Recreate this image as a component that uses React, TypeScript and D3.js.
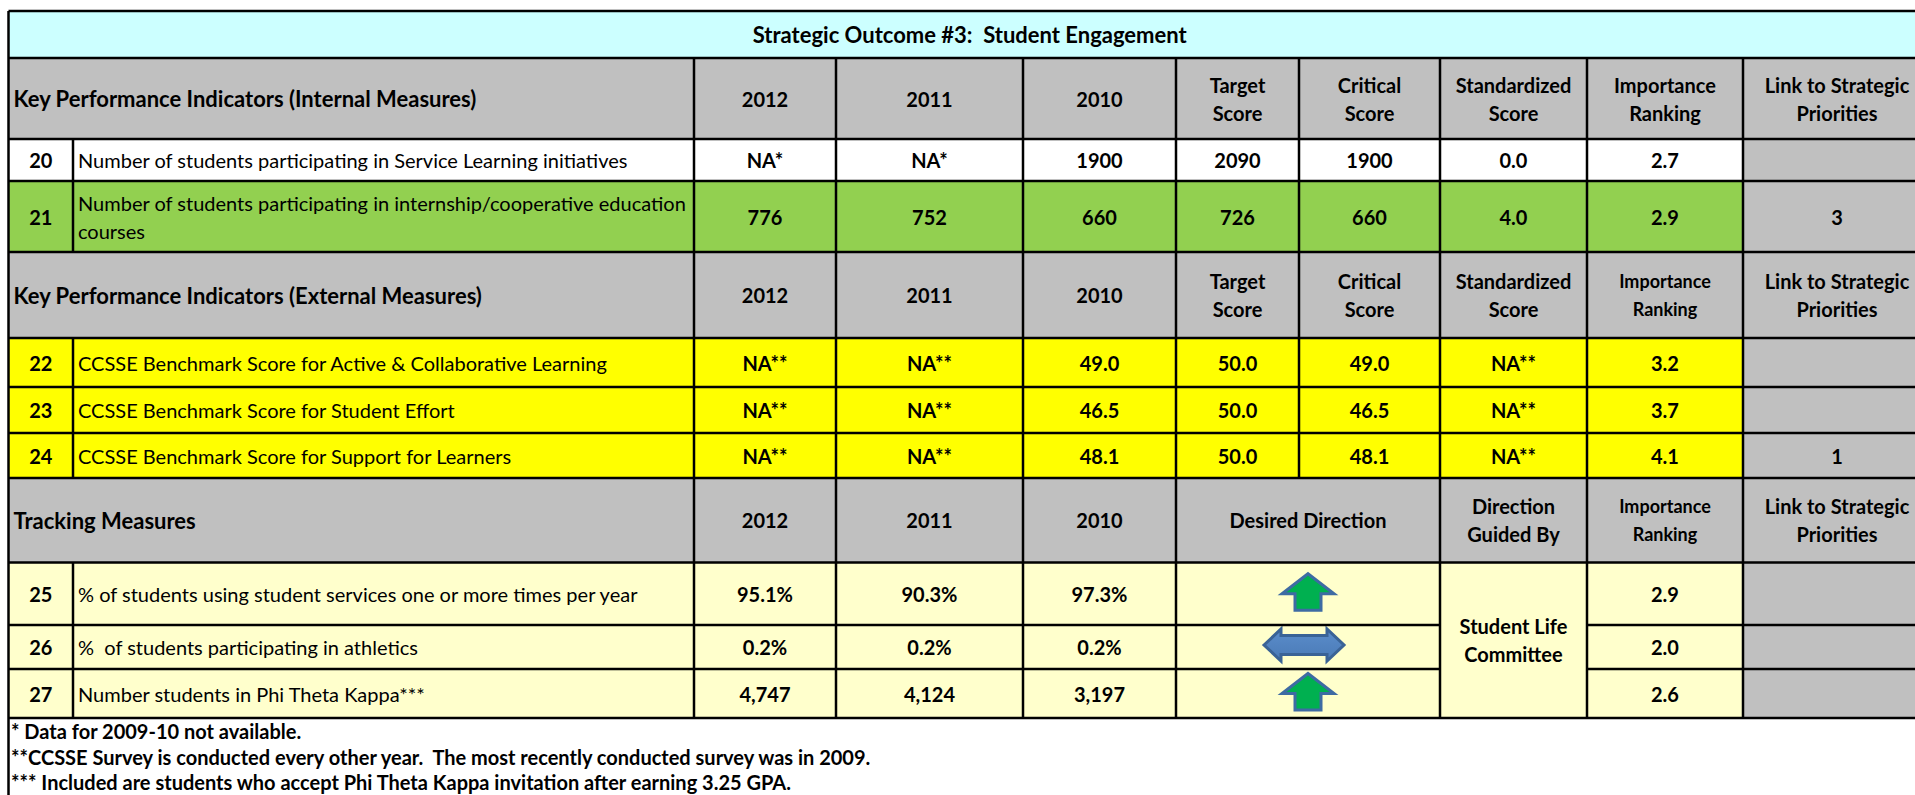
import React from "react";
import * as d3 from "d3";

// ---------- data ----------
const title = "Strategic Outcome #3:  Student Engagement";
const yearHeaders = ["2012", "2011", "2010"];
const scoreHeaders = [["Target", "Score"], ["Critical", "Score"], ["Standardized", "Score"], ["Importance", "Ranking"], ["Link to Strategic", "Priorities"]];

const internalTitle = "Key Performance Indicators (Internal Measures)";
const internalIds = ["20", "21"];
const internalLabels = [["Number of students participating in Service Learning initiatives"], ["Number of students participating in internship/cooperative education", "courses"]];
const internal2012 = ["NA*", "776"];
const internal2011 = ["NA*", "752"];
const internal2010 = ["1900", "660"];
const internalTarget = ["2090", "726"];
const internalCritical = ["1900", "660"];
const internalStandardized = ["0.0", "4.0"];
const internalImportance = ["2.7", "2.9"];
const internalLink = ["", "3"];

const externalTitle = "Key Performance Indicators (External Measures)";
const externalIds = ["22", "23", "24"];
const externalLabels = ["CCSSE Benchmark Score for Active & Collaborative Learning", "CCSSE Benchmark Score for Student Effort", "CCSSE Benchmark Score for Support for Learners"];
const external2012 = ["NA**", "NA**", "NA**"];
const external2011 = ["NA**", "NA**", "NA**"];
const external2010 = ["49.0", "46.5", "48.1"];
const externalTarget = ["50.0", "50.0", "50.0"];
const externalCritical = ["49.0", "46.5", "48.1"];
const externalStandardized = ["NA**", "NA**", "NA**"];
const externalImportance = ["3.2", "3.7", "4.1"];
const externalLink = ["", "", "1"];

const trackingTitle = "Tracking Measures";
const trackingIds = ["25", "26", "27"];
const trackingLabels = ["% of students using student services one or more times per year", "%  of students participating in athletics", "Number students in Phi Theta Kappa***"];
const tracking2012 = ["95.1%", "0.2%", "4,747"];
const tracking2011 = ["90.3%", "0.2%", "4,124"];
const tracking2010 = ["97.3%", "0.2%", "3,197"];
const trackingDirection = ["up", "both", "up"];
const trackingGuidedBy = ["Student Life", "Committee"];
const trackingImportance = ["2.9", "2.0", "2.6"];

const footnotes = [
  "* Data for 2009-10 not available.",
  "**CCSSE Survey is conducted every other year.  The most recently conducted survey was in 2009.",
  "*** Included are students who accept Phi Theta Kappa invitation after earning 3.25 GPA.",
];

// ---------- layout ----------
const W = 1915, H = 795;
const colKeys = ["id", "label", "y2012", "y2011", "y2010", "target", "critical", "std", "imp", "link"];
const colEdges = [8.5, 73, 694, 836, 1023, 1176, 1299, 1440, 1587, 1743, 1931];
const rowKeys = ["title", "h1", "r20", "r21", "h2", "r22", "r23", "r24", "h3", "r25", "r26", "r27"];
const rowEdges = [11, 58, 139, 181, 252, 338, 387, 433, 478, 562.5, 625, 669, 718];

const xL = d3.scaleOrdinal<string, number>().domain(colKeys).range(colEdges.slice(0, -1));
const xR = d3.scaleOrdinal<string, number>().domain(colKeys).range(colEdges.slice(1));
const yT = d3.scaleOrdinal<string, number>().domain(rowKeys).range(rowEdges.slice(0, -1));
const yB = d3.scaleOrdinal<string, number>().domain(rowKeys).range(rowEdges.slice(1));

const C = {
  title: "#CCFFFF", gray: "#C0C0C0", white: "#FFFFFF", green: "#92D050", yellow: "#FFFF00", lightYellow: "#FFFFCC",
};
const FONT = "Lato, Carlito, Calibri, 'Open Sans', sans-serif";
const FS = 20;
const LH = 28;

type CellProps = { c0: string; c1?: string; r0: string; r1?: string; fill: string; lines?: string[]; bold?: boolean; align?: "middle" | "start"; size?: number; };

function Cell({ c0, c1, r0, r1, fill, lines = [], bold = true, align = "middle", size = FS }: CellProps) {
  const x0 = xL(c0), x1 = xR(c1 ?? c0), y0 = yT(r0), y1 = yB(r1 ?? r0);
  const cy = (y0 + y1) / 2;
  const tx = align === "middle" ? (x0 + x1) / 2 : x0 + 5;
  const n = lines.length;
  return (
    <g>
      <rect x={x0} y={y0} width={x1 - x0} height={y1 - y0} fill={fill} />
      {lines.map((t, i) => (
        <text key={i} x={tx} y={cy + (i - (n - 1) / 2) * LH} textAnchor={align} dominantBaseline="central"
          fontFamily={FONT} fontSize={size} fontWeight={bold ? 700 : 400} fill="#000" style={{ whiteSpace: "pre" }}>{t}</text>
      ))}
    </g>
  );
}

function UpArrow({ cx, cy }: { cx: number; cy: number }) {
  const p = d3.path();
  const hw = 26, sw = 13, top = cy - 18.5, base = cy + 1.5, bot = cy + 18;
  p.moveTo(cx, top); p.lineTo(cx + hw, base); p.lineTo(cx + sw, base); p.lineTo(cx + sw, bot);
  p.lineTo(cx - sw, bot); p.lineTo(cx - sw, base); p.lineTo(cx - hw, base); p.closePath();
  return <path d={p.toString()} fill="#00B050" stroke="#3E6BA3" strokeWidth={3} strokeLinejoin="miter" />;
}

function BothArrow({ cx, cy }: { cx: number; cy: number }) {
  const p = d3.path();
  const hl = 40, hh = 16, sh = 9.5, head = 17;
  p.moveTo(cx - hl, cy); p.lineTo(cx - hl + head, cy - hh); p.lineTo(cx - hl + head, cy - sh);
  p.lineTo(cx + hl - head, cy - sh); p.lineTo(cx + hl - head, cy - hh); p.lineTo(cx + hl, cy);
  p.lineTo(cx + hl - head, cy + hh); p.lineTo(cx + hl - head, cy + sh); p.lineTo(cx - hl + head, cy + sh);
  p.lineTo(cx - hl + head, cy + hh); p.closePath();
  return <path d={p.toString()} fill="url(#blueGrad)" stroke="#3A6396" strokeWidth={3} />;
}

export default function App() {
  const sectionHeader = (r: string, label: string) => (
    <g>
      <Cell c0="id" c1="label" r0={r} fill={C.gray} lines={[label]} align="start" size={22} />
      {yearHeaders.map((y, i) => <Cell key={y} c0={colKeys[2 + i]} r0={r} fill={C.gray} lines={[y]} />)}
    </g>
  );

  const internalRows = ["r20", "r21"];
  const externalRows = ["r22", "r23", "r24"];
  const trackingRows = ["r25", "r26", "r27"];
  const internalFills = [C.white, C.green];

  const vLinesFor = (r: string, cols: string[]) => cols.map(c => ({ x: xL(c), y0: yT(r), y1: yB(r) }));

  const allCols = colKeys.slice(1);
  const vSegs: { x: number; y0: number; y1: number }[] = [];
  ["h1", "h2"].forEach(r => vSegs.push(...vLinesFor(r, ["y2012", "y2011", "y2010", "target", "critical", "std", "imp", "link"])));
  vSegs.push(...vLinesFor("h3", ["y2012", "y2011", "y2010", "target", "std", "imp", "link"]));
  [...internalRows, ...externalRows].forEach(r => vSegs.push(...vLinesFor(r, allCols)));
  trackingRows.forEach(r => vSegs.push(...vLinesFor(r, ["label", "y2012", "y2011", "y2010", "target", "std", "imp", "link"])));

  const mergedInner = [yB("r25"), yB("r26")];
  const hSegs: { y: number; x0: number; x1: number }[] = [];
  rowEdges.forEach(y => {
    if (mergedInner.includes(y)) {
      hSegs.push({ y, x0: colEdges[0], x1: xL("std") });
      hSegs.push({ y, x0: xR("std"), x1: colEdges[colEdges.length - 1] });
    } else {
      hSegs.push({ y, x0: colEdges[0], x1: colEdges[colEdges.length - 1] });
    }
  });

  return (
    <svg width={W} height={H} style={{ position: "absolute", left: 0, top: 0, background: "#fff" }}>
      <defs>
        <linearGradient id="blueGrad" x1="0" y1="0" x2="0" y2="1">
          <stop offset="0" stopColor="#5B8DCB" />
          <stop offset="1" stopColor="#4A7AB6" />
        </linearGradient>
      </defs>
      <Cell c0="id" c1="link" r0="title" fill={C.title} lines={[title]} size={22} />

      {sectionHeader("h1", internalTitle)}
      {scoreHeaders.map((h, i) => <Cell key={i} c0={colKeys[5 + i]} r0="h1" fill={C.gray} lines={h} />)}
      {internalRows.map((r, i) => {
        const f = internalFills[i];
        const vals = [internal2012[i], internal2011[i], internal2010[i], internalTarget[i], internalCritical[i], internalStandardized[i], internalImportance[i]];
        return (
          <g key={r}>
            <Cell c0="id" r0={r} fill={f} lines={[internalIds[i]]} />
            <Cell c0="label" r0={r} fill={f} lines={internalLabels[i]} bold={false} align="start" />
            {vals.map((v, j) => <Cell key={j} c0={colKeys[2 + j]} r0={r} fill={f} lines={[v]} />)}
            <Cell c0="link" r0={r} fill={C.gray} lines={internalLink[i] ? [internalLink[i]] : []} />
          </g>
        );
      })}

      {sectionHeader("h2", externalTitle)}
      {scoreHeaders.map((h, i) => <Cell key={i} c0={colKeys[5 + i]} r0="h2" fill={C.gray} lines={h} size={i === 3 ? 18 : FS} />)}
      {externalRows.map((r, i) => {
        const vals = [external2012[i], external2011[i], external2010[i], externalTarget[i], externalCritical[i], externalStandardized[i], externalImportance[i]];
        return (
          <g key={r}>
            <Cell c0="id" r0={r} fill={C.yellow} lines={[externalIds[i]]} />
            <Cell c0="label" r0={r} fill={C.yellow} lines={[externalLabels[i]]} bold={false} align="start" />
            {vals.map((v, j) => <Cell key={j} c0={colKeys[2 + j]} r0={r} fill={C.yellow} lines={[v]} />)}
            <Cell c0="link" r0={r} fill={C.gray} lines={externalLink[i] ? [externalLink[i]] : []} />
          </g>
        );
      })}

      {sectionHeader("h3", trackingTitle)}
      <Cell c0="target" c1="critical" r0="h3" fill={C.gray} lines={["Desired Direction"]} />
      <Cell c0="std" r0="h3" fill={C.gray} lines={["Direction", "Guided By"]} />
      <Cell c0="imp" r0="h3" fill={C.gray} lines={["Importance", "Ranking"]} size={18} />
      <Cell c0="link" r0="h3" fill={C.gray} lines={["Link to Strategic", "Priorities"]} />
      {trackingRows.map((r, i) => {
        const vals = [tracking2012[i], tracking2011[i], tracking2010[i]];
        const cx = (xL("target") + xR("critical")) / 2;
        const cy = (yT(r) + yB(r)) / 2;
        return (
          <g key={r}>
            <Cell c0="id" r0={r} fill={C.lightYellow} lines={[trackingIds[i]]} />
            <Cell c0="label" r0={r} fill={C.lightYellow} lines={[trackingLabels[i]]} bold={false} align="start" />
            {vals.map((v, j) => <Cell key={j} c0={colKeys[2 + j]} r0={r} fill={C.lightYellow} lines={[v]} />)}
            <Cell c0="target" c1="critical" r0={r} fill={C.lightYellow} />
            {trackingDirection[i] === "up" ? <UpArrow cx={cx} cy={cy - 1.5} /> : <BothArrow cx={cx - 4} cy={cy - 2} />}
            <Cell c0="imp" r0={r} fill={C.lightYellow} lines={[trackingImportance[i]]} />
            <Cell c0="link" r0={r} fill={C.gray} />
          </g>
        );
      })}
      <Cell c0="std" r0={trackingRows[0]} r1={trackingRows[2]} fill={C.lightYellow} lines={trackingGuidedBy} />

      {hSegs.map((s, i) => <line key={"h" + i} x1={s.x0} x2={s.x1} y1={s.y} y2={s.y} stroke="#000" strokeWidth={2.5} />)}
      {vSegs.map((s, i) => <line key={"v" + i} x1={s.x} x2={s.x} y1={s.y0} y2={s.y1} stroke="#000" strokeWidth={2.5} />)}
      <line x1={colEdges[0]} x2={colEdges[0]} y1={rowEdges[0]} y2={H} stroke="#000" strokeWidth={2.5} />

      {footnotes.map((t, i) => (
        <text key={i} x={11} y={731 + i * 25.5} dominantBaseline="central" fontFamily={FONT} fontSize={20} fontWeight={700} style={{ whiteSpace: "pre" }}>{t}</text>
      ))}
    </svg>
  );
}
